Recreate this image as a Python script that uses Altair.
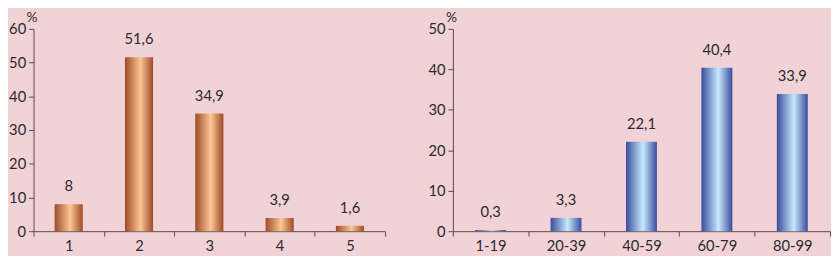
import altair as alt
import pandas as pd

cats_left = ["1", "2", "3", "4", "5"]
vals_left = [8, 51.6, 34.9, 3.9, 1.6]
cats_right = ["1-19", "20-39", "40-59", "60-79", "80-99"]
vals_right = [0.3, 3.3, 22.1, 40.4, 33.9]

BG = "#F1D2D6"
TXT = "#2b2b2b"
AX = "#5a4848"
FONT = "Lato"
FS = 15

df_l = pd.DataFrame({"cat": cats_left, "v": vals_left})
df_r = pd.DataFrame({"cat": cats_right, "v": vals_right})


def grad(edge, mid):
    return alt.Gradient(
        gradient="linear",
        stops=[
            alt.GradientStop(color=edge, offset=0),
            alt.GradientStop(color=mid, offset=0.55),
            alt.GradientStop(color=edge, offset=1),
        ],
        x1=0, x2=1, y1=0, y2=0,
    )


def panel(df, cats, ymax, w, h, edge, mid, bw):
    x = alt.X("cat:N", sort=cats, title=None,
              scale=alt.Scale(paddingInner=0, paddingOuter=0),
              axis=alt.Axis(labelAngle=0, tickBand="extent", domainColor=AX,
                            tickColor=AX, tickSize=5, labelPadding=3,
                            labelColor=TXT, labelFontSize=FS, labelFont=FONT))
    y = alt.Y("v:Q", title="%",
              scale=alt.Scale(domain=[0, ymax], nice=False),
              axis=alt.Axis(values=list(range(0, ymax + 1, 10)), grid=False,
                            labelOverlap=False,
                            domainColor=AX, tickColor=AX, tickSize=5,
                            labelPadding=3, labelColor=TXT, labelFontSize=FS,
                            labelFont=FONT, titleAngle=0, titleAlign="center",
                            titleBaseline="bottom", titleX=-2, titleY=-5,
                            titleFont=FONT, titleFontSize=14,
                            titleFontWeight="normal", titleColor=TXT))
    base = alt.Chart(df).encode(x=x, y=y)
    bars = base.mark_bar(color=grad(edge, mid), width=alt.RelativeBandSize(bw))
    text = base.transform_calculate(
        lab="replace(toString(datum.v), '.', ',')"
    ).mark_text(baseline="bottom", dy=-10, font=FONT, fontSize=FS,
                color=TXT).encode(text="lab:N")
    return (bars + text).properties(width=w, height=h)


left = panel(df_l, cats_left, 60, 358, 206, "#9E4A29", "#FBC893", 0.4)
right = panel(df_r, cats_right, 50, 384, 206, "#3A4C9E", "#C6EAFB", 0.41)

chart = alt.hconcat(left, right, spacing=42).properties(
    background=BG, padding={"left": 0, "top": 0, "right": 0, "bottom": 0}
).configure_view(stroke=None)

chart.save("out.html", embed_options={"renderer": "svg", "actions": False})
